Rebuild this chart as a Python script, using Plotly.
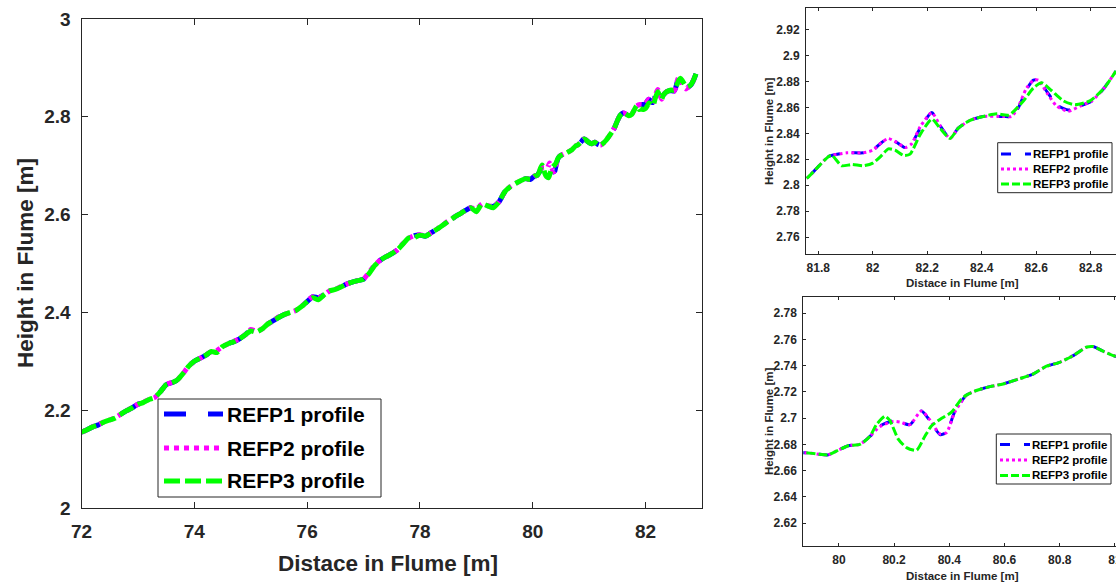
import plotly.graph_objects as go

# ---------------- data ----------------
# shared stations 72.0 - 79.8 m
dist_a = [72.0, 72.1, 72.2, 72.3, 72.4, 72.5, 72.6, 72.7, 72.8, 72.9,
          73.0, 73.1, 73.2, 73.3, 73.4, 73.5, 73.6, 73.7, 73.8, 73.9,
          74.0, 74.1, 74.2, 74.3, 74.4, 74.5, 74.6, 74.7, 74.8, 74.9,
          75.0, 75.1, 75.2, 75.3, 75.4, 75.5, 75.6, 75.7, 75.8, 75.9,
          76.0, 76.1, 76.2, 76.3, 76.4, 76.5, 76.6, 76.7, 76.8, 76.9,
          77.0, 77.1, 77.2, 77.3, 77.4, 77.5, 77.6, 77.7, 77.8, 77.9,
          78.0, 78.1, 78.2, 78.3, 78.4, 78.5, 78.6, 78.7, 78.8, 78.9,
          79.0, 79.1, 79.2, 79.3, 79.4, 79.5, 79.6, 79.7, 79.8]
refp1_a = [2.155, 2.160, 2.166, 2.170, 2.176, 2.180, 2.184, 2.192, 2.199, 2.205,
           2.212, 2.216, 2.222, 2.226, 2.238, 2.252, 2.256, 2.262, 2.275, 2.290,
           2.300, 2.306, 2.312, 2.320, 2.322, 2.330, 2.336, 2.340, 2.346, 2.354,
           2.364, 2.362, 2.366, 2.376, 2.383, 2.390, 2.396, 2.400, 2.404, 2.412,
           2.422, 2.432, 2.430, 2.436, 2.444, 2.447, 2.452, 2.458, 2.462, 2.465,
           2.468, 2.482, 2.496, 2.507, 2.514, 2.520, 2.528, 2.540, 2.552, 2.557,
           2.558, 2.556, 2.563, 2.570, 2.578, 2.586, 2.594, 2.601, 2.608, 2.614,
           2.612, 2.622, 2.618, 2.617, 2.626, 2.646, 2.657, 2.664, 2.670]
refp2_a = [2.155, 2.160, 2.166, 2.171, 2.176, 2.180, 2.185, 2.192, 2.199, 2.205,
           2.212, 2.217, 2.222, 2.226, 2.238, 2.252, 2.257, 2.262, 2.275, 2.290,
           2.300, 2.306, 2.313, 2.320, 2.322, 2.330, 2.336, 2.341, 2.346, 2.354,
           2.365, 2.362, 2.366, 2.376, 2.383, 2.391, 2.396, 2.400, 2.404, 2.412,
           2.423, 2.432, 2.430, 2.436, 2.444, 2.447, 2.453, 2.458, 2.462, 2.465,
           2.468, 2.482, 2.497, 2.507, 2.514, 2.520, 2.528, 2.541, 2.552, 2.557,
           2.559, 2.556, 2.563, 2.570, 2.578, 2.587, 2.594, 2.601, 2.608, 2.614,
           2.611, 2.622, 2.618, 2.617, 2.626, 2.646, 2.657, 2.664, 2.670]
refp3_a = [2.155, 2.160, 2.166, 2.170, 2.176, 2.180, 2.184, 2.192, 2.199, 2.205,
           2.212, 2.216, 2.222, 2.226, 2.238, 2.252, 2.256, 2.262, 2.275, 2.290,
           2.300, 2.306, 2.312, 2.320, 2.318, 2.330, 2.336, 2.340, 2.346, 2.354,
           2.362, 2.360, 2.366, 2.376, 2.383, 2.390, 2.396, 2.400, 2.404, 2.412,
           2.422, 2.430, 2.426, 2.436, 2.444, 2.447, 2.452, 2.458, 2.462, 2.465,
           2.468, 2.480, 2.496, 2.507, 2.514, 2.520, 2.528, 2.540, 2.552, 2.553,
           2.558, 2.556, 2.563, 2.570, 2.578, 2.586, 2.594, 2.601, 2.608, 2.614,
           2.606, 2.622, 2.618, 2.614, 2.626, 2.646, 2.657, 2.664, 2.670]

# lower inset region 79.87 - 81.0 m
dist_b13 = [79.871, 79.931, 79.961, 79.992, 80.034, 80.076, 80.112, 80.148, 80.197,
            80.221, 80.257, 80.299, 80.330, 80.366, 80.390, 80.420, 80.462, 80.498,
            80.547, 80.595, 80.655, 80.703, 80.752, 80.800, 80.848, 80.897, 80.921,
            80.957, 81.003]
refp1_b = [2.6736, 2.6724, 2.6720, 2.6750, 2.6790, 2.6800, 2.6860, 2.6940, 2.6980,
           2.6970, 2.6950, 2.7055, 2.6980, 2.6875, 2.6890, 2.7050, 2.7175, 2.7210,
           2.7240, 2.7260, 2.7300, 2.7335, 2.7395, 2.7425, 2.7475, 2.7540, 2.7545,
           2.7510, 2.7470]
refp2_b = [2.6736, 2.6724, 2.6720, 2.6750, 2.6790, 2.6800, 2.6860, 2.6935, 2.6975,
           2.6970, 2.6950, 2.7055, 2.6985, 2.6880, 2.6890, 2.7045, 2.7175, 2.7210,
           2.7240, 2.7260, 2.7300, 2.7335, 2.7395, 2.7425, 2.7475, 2.7540, 2.7545,
           2.7510, 2.7470]
dist_b3 = [79.871, 79.931, 79.961, 79.992, 80.034, 80.076, 80.112, 80.136, 80.167,
           80.185, 80.215, 80.245, 80.281, 80.311, 80.335, 80.366, 80.408, 80.444,
           80.462, 80.498, 80.547, 80.595, 80.655, 80.703, 80.752, 80.800, 80.848,
           80.897, 80.921, 80.957, 81.003]
refp3_b = [2.6736, 2.6724, 2.6720, 2.6750, 2.6790, 2.6800, 2.6860, 2.6950, 2.7015,
           2.6980, 2.6840, 2.6775, 2.6755, 2.6860, 2.6940, 2.6990, 2.7045, 2.7145,
           2.7175, 2.7210, 2.7240, 2.7260, 2.7300, 2.7335, 2.7395, 2.7425, 2.7475,
           2.7540, 2.7545, 2.7510, 2.7470]

# shared stations 81.05 - 81.7 m
dist_c = [81.05, 81.10, 81.15, 81.20, 81.25, 81.30, 81.35, 81.40, 81.45, 81.50,
          81.55, 81.60, 81.65, 81.70]
refp_c = [2.745, 2.748, 2.744, 2.742, 2.746, 2.752, 2.760, 2.768, 2.778, 2.792,
          2.803, 2.808, 2.806, 2.802]

# upper inset region 81.75 - 82.9 m
dist_d12 = [81.755, 81.794, 81.837, 81.905, 81.966, 82.000, 82.033, 82.057, 82.088,
            82.119, 82.143, 82.174, 82.217, 82.247, 82.284, 82.314, 82.357, 82.406,
            82.480, 82.510, 82.535, 82.565, 82.590, 82.608, 82.640, 82.675, 82.718,
            82.761, 82.804, 82.846, 82.893]
refp1_d = [2.805, 2.813, 2.822, 2.825, 2.825, 2.827, 2.833, 2.836, 2.833,
           2.829, 2.832, 2.844, 2.856, 2.846, 2.836, 2.844, 2.850, 2.853,
           2.853, 2.853, 2.860, 2.874, 2.881, 2.881, 2.872, 2.862, 2.858,
           2.861, 2.865, 2.874, 2.888]
refp2_d = [2.805, 2.813, 2.822, 2.825, 2.825, 2.827, 2.833, 2.836, 2.833,
           2.829, 2.832, 2.845, 2.856, 2.846, 2.836, 2.844, 2.850, 2.853,
           2.853, 2.853, 2.861, 2.875, 2.881, 2.881, 2.871, 2.861, 2.857,
           2.861, 2.865, 2.874, 2.888]
dist_d3 = [81.755, 81.794, 81.837, 81.850, 81.886, 81.923, 81.966, 82.000, 82.033,
           82.057, 82.082, 82.113, 82.137, 82.174, 82.217, 82.247, 82.284, 82.314,
           82.357, 82.406, 82.455, 82.500, 82.553, 82.590, 82.620, 82.656, 82.700,
           82.742, 82.797, 82.846, 82.893]
refp3_d = [2.805, 2.813, 2.822, 2.823, 2.815, 2.816, 2.815, 2.817, 2.823,
           2.828, 2.827, 2.823, 2.824, 2.839, 2.851, 2.844, 2.836, 2.844,
           2.850, 2.853, 2.855, 2.854, 2.865, 2.875, 2.879, 2.873, 2.865,
           2.862, 2.865, 2.874, 2.888]

series_names = ["REFP1 profile", "REFP2 profile", "REFP3 profile"]
x_title = "Distace in Flume [m]"
y_title = "Height in Flume [m]"

x1 = dist_a + dist_b13 + dist_c + dist_d12
y1 = refp1_a + refp1_b + refp_c + refp1_d
x2 = dist_a + dist_b13 + dist_c + dist_d12
y2 = refp2_a + refp2_b + refp_c + refp2_d
x3 = dist_a + dist_b3 + dist_c + dist_d3
y3 = refp3_a + refp3_b + refp_c + refp3_d

# ---------------- styling ----------------
W, H = 1116, 583
FONT = "Liberation Sans, Arial, sans-serif"
TXT = "#262626"
colors = ["#0000FF", "#FF00FF", "#00FF00"]


def px(x):
    return x / W


def py(y):
    return 1 - y / H


fig = go.Figure()

panels = [
    dict(xa="x", ya="y", width=5, dashes=["22px,22px", "5px,5px", "16px,5px"]),
    dict(xa="x2", ya="y2", width=3, dashes=["12px,12px", "3px,3px", "9px,3px"]),
    dict(xa="x3", ya="y3", width=3, dashes=["12px,12px", "3px,3px", "9px,3px"]),
]
data_xy = [(x1, y1), (x2, y2), (x3, y3)]
for p in panels:
    for i, (xs, ys) in enumerate(data_xy):
        fig.add_trace(go.Scatter(
            x=xs, y=ys, mode="lines", name=series_names[i], showlegend=False,
            line=dict(color=colors[i], width=p["width"], dash=p["dashes"][i], shape="spline", smoothing=0.6),
            xaxis=p["xa"], yaxis=p["ya"], hoverinfo="skip"))


def axis(domain, rng, dtick, tick0, size, ticklen, anchor, mirror, standoff):
    return dict(domain=domain, range=rng, dtick=dtick, tick0=tick0, anchor=anchor,
                automargin=False, ticklabeloverflow="allow",
                showgrid=False, zeroline=False, showline=True, linecolor=TXT, linewidth=1,
                mirror=mirror, ticks="inside", ticklen=ticklen, tickcolor=TXT, tickwidth=1,
                tickfont=dict(family=FONT, size=size, color=TXT, weight="bold"),
                ticklabelstandoff=standoff)


layout = dict(
    width=W, height=H, margin=dict(l=0, r=0, t=0, b=0, autoexpand=False),
    paper_bgcolor="white", plot_bgcolor="white", showlegend=False,
    xaxis=axis([px(81.5), px(702)], [72, 83], 2, 72, 19, 6, "y", "ticks", 6),
    yaxis=axis([py(508), py(19)], [2, 3], 0.2, 2, 19, 6, "x", "ticks", 6),
    xaxis2=axis([px(806), 1.0], [81.755, 82.893], 0.2, 81.8, 12, 3, "y2", "ticks", 3),
    yaxis2=axis([py(254), py(8)], [2.747, 2.9366], 0.02, 2.76, 12, 3, "x2", False, 3),
    xaxis3=axis([px(803.3), 1.0], [79.871, 81.004], 0.2, 80, 12, 3, "y3", "ticks", 3),
    yaxis3=axis([py(546), py(297.3)], [2.6026, 2.792], 0.02, 2.62, 12, 3, "x3", False, 3),
)
fig.update_layout(**layout)

annotations = []
shapes = []


def title(text, x, y, size, angle=0):
    annotations.append(dict(text=text, x=px(x), y=py(y), xref="paper", yref="paper",
                            showarrow=False, textangle=angle, xanchor="center", yanchor="middle",
                            font=dict(family=FONT, size=size, color=TXT, weight="bold")))


title(x_title, 388, 563, 22.5)
title(y_title, 25, 263, 22.5, -90)
title(x_title, 962, 283, 11.5)
title(y_title, 769, 131, 11.5, -90)
title(x_title, 962, 576, 11.5)
title(y_title, 769, 421, 11.5, -90)


def legend(box, rows, sample, text_x, size, width, dashes):
    x0, y0, x1_, y1_ = box
    shapes.append(dict(type="rect", xref="paper", yref="paper", x0=px(x0), x1=px(x1_),
                       y0=py(y1_), y1=py(y0), line=dict(color=TXT, width=1),
                       fillcolor="white", layer="above"))
    for i, ry in enumerate(rows):
        shapes.append(dict(type="line", xref="paper", yref="paper", x0=px(sample[0]), x1=px(sample[1]),
                           y0=py(ry), y1=py(ry), layer="above",
                           line=dict(color=colors[i], width=width, dash=dashes[i])))
        annotations.append(dict(text=series_names[i], x=px(text_x), y=py(ry), xref="paper", yref="paper",
                                showarrow=False, xanchor="left", yanchor="middle",
                                font=dict(family=FONT, size=size, color="#000000", weight="bold")))


legend((158, 399, 381, 497), [414, 448, 481], (164, 223), 225, 21, 5,
       ["22px,22px", "5px,5px", "16px,5px"])
legend((997.7, 142.7, 1112, 192.7), [154, 169, 184], (1001, 1031), 1031, 11.5, 3,
       ["10px,14px", "3px,3px", "8px,3px"])
legend((996.3, 434, 1111, 484), [444.5, 460, 475.5], (1000, 1030), 1030, 11.5, 3,
       ["10px,14px", "3px,3px", "8px,3px"])

fig.update_layout(annotations=annotations, shapes=shapes)
fig.write_html("out.html")
